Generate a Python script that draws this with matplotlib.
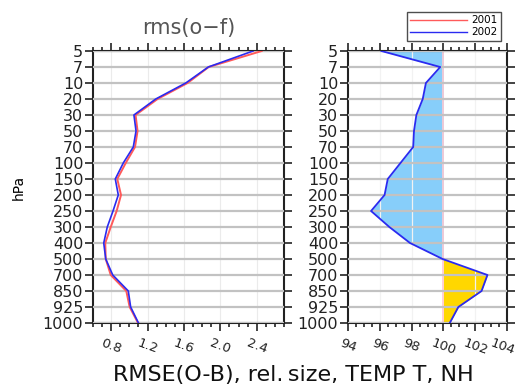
import numpy as np
import matplotlib
matplotlib.use("Agg")
import matplotlib.pyplot as plt
import matplotlib.transforms as mtransforms
from matplotlib.ticker import MultipleLocator

levels = ["5", "7", "10", "20", "30", "50", "70", "100", "150", "200", "250",
          "300", "400", "500", "700", "850", "925", "1000"]
rms_2001 = [2.455, 1.872, 1.64, 1.31, 1.068, 1.09, 1.062, 0.96, 0.867, 0.908,
            0.86, 0.795, 0.735, 0.74, 0.795, 0.966, 1.003, 1.095]
rms_2002 = [2.36, 1.868, 1.62, 1.29, 1.05, 1.073, 1.043, 0.933, 0.845, 0.878,
            0.82, 0.757, 0.718, 0.74, 0.817, 0.988, 1.014, 1.10]
rel_size = [96.1, 99.8, 98.9, 98.7, 98.3, 98.15, 98.1, 97.3, 96.5, 96.3,
            95.45, 96.6, 97.9, 99.95, 102.77, 102.4, 100.94, 100.4]
years = ["2001", "2002"]

W, H = 517, 387
fig = plt.figure(figsize=(W / 100, H / 100), dpi=100)
ax1 = fig.add_axes([93 / W, (H - 323) / H, 191 / W, 272 / H])
ax2 = fig.add_axes([348 / W, (H - 323) / H, 159 / W, 272 / H])

y = np.arange(len(levels))
red = "#ff5a5a"
blue = "#2a2af0"


def style(ax, xlim, major, minor):
    ax.set_ylim(len(levels) - 1, 0)
    ax.set_xlim(*xlim)
    ax.set_yticks(y)
    ax.set_yticklabels(levels, fontsize=11.5, color="#222222")
    ax.xaxis.set_major_locator(MultipleLocator(major))
    ax.xaxis.set_minor_locator(MultipleLocator(minor))
    ax.tick_params(axis="x", which="both", top=True, direction="out",
                   width=1.2, color="#222222")
    ax.tick_params(axis="x", which="major", length=6)
    ax.tick_params(axis="x", which="minor", length=3)
    ax.tick_params(axis="y", right=True, direction="inout", length=12,
                   width=1.2, color="#222222", pad=1)
    for s in ax.spines.values():
        s.set_linewidth(1.5)
        s.set_color("#222222")
    for lv in y:
        ax.axhline(lv, color="#c2c2c2", lw=1.6, zorder=3)
    ax.set_axisbelow(False)


# left panel
style(ax1, (0.6, 2.7), 0.4, 0.1)
ax1.set_xticks([0.8, 1.2, 1.6, 2.0, 2.4])
ax1.set_xticklabels(["0.8", "1.2", "1.6", "2.0", "2.4"], fontsize=9.5,
                    rotation=-20, color="#222222")
for xv in [0.8, 1.2, 1.6, 2.0, 2.4]:
    ax1.axvline(xv, color="#ebebeb", lw=0.8, zorder=2)
ax1.plot(rms_2001, y, color=red, lw=1.4, zorder=5, label=years[0])
ax1.plot(rms_2002, y, color=blue, lw=1.2, zorder=6, label=years[1])
ax1.set_ylabel("hPa", fontsize=10, labelpad=12)
ax1.set_title("rms(o\u2212f)", fontsize=15, color="#555555", pad=12)

# right panel
style(ax2, (94, 104), 2, 0.5)
ax2.set_xticks([94, 96, 98, 100, 102, 104])
ax2.set_xticklabels(["94", "96", "98", "100", "102", "104"], fontsize=9.5,
                    rotation=-20, color="#222222")
last = ax2.get_xticklabels()[-1]
last.set_transform(last.get_transform() +
                   mtransforms.ScaledTranslation(-4 / 100, 0, fig.dpi_scale_trans))
rel = np.array(rel_size)
ax2.fill_betweenx(y, rel, 100, where=rel <= 100, interpolate=True,
                  color="#87cefa", lw=0, zorder=1)
ax2.fill_betweenx(y, rel, 100, where=rel >= 100, interpolate=True,
                  color="#ffd700", lw=0, zorder=1)
for xv in [96, 98, 102]:
    ax2.axvline(xv, color="#f2f2f2", lw=0.9, zorder=2)
ax2.axvline(100, color="#ffc8d0", lw=1.2, zorder=2)
ax2.plot(rel, y, color=blue, lw=1.3, zorder=6)

# legend
h1, l1 = ax1.get_legend_handles_labels()
leg = fig.legend(h1, l1, loc="upper right", bbox_to_anchor=(506 / W, 1 - 7 / H),
                 fontsize=7.5, frameon=True, fancybox=False, edgecolor="#222222",
                 handlelength=5.5, borderpad=0.3, labelspacing=0.2,
                 handletextpad=0.4)
leg.get_frame().set_linewidth(1.0)
for line in leg.get_lines():
    line.set_linewidth(1.0)

fig.text(293 / W, 1 - 375 / H, "RMSE(O-B), rel.\u2009size, TEMP T, NH",
         fontsize=16, ha="center", va="center", color="#111111")

fig.savefig("out.png", dpi=100)
